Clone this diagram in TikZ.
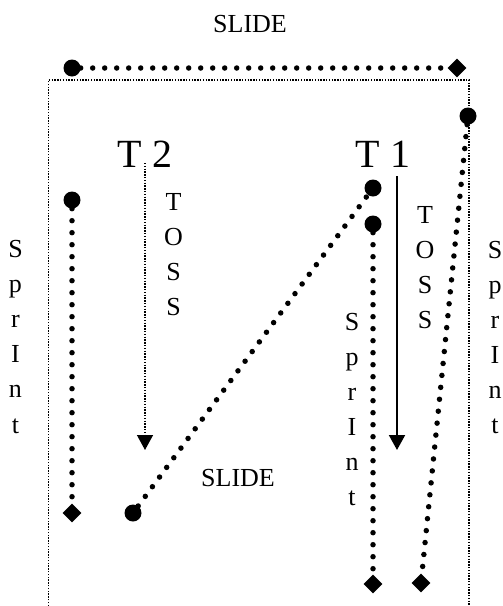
\documentclass[tikz,border=0pt]{standalone}
\usepackage{fontspec}
\setmainfont{Liberation Serif}
\usetikzlibrary{shapes.geometric,arrows.meta}
\tikzset{
  bigdots/.style={line width=5.5pt, line cap=round, dash pattern=on 0pt off 12pt},
  finedots/.style={line width=1.4pt, dash pattern=on 1.4pt off 1.4pt},
  dot/.style={circle, fill=black, draw=none, minimum size=17pt, inner sep=0pt},
  diam/.style={diamond, fill=black, draw=none, minimum size=19pt, inner sep=0pt},
  lbl/.style={font=\fontsize{26}{30}\selectfont, inner sep=0pt, anchor=base},
  title/.style={font=\fontsize{40}{44}\selectfont, inner sep=0pt, anchor=base},
  tip/.style={-{Triangle[length=15pt,width=16pt]}}
}
\begin{document}
\begin{tikzpicture}[x=1pt,y=-1pt]
\useasboundingbox (0,0) rectangle (503,606);
% outer thin dotted frame
\coordinate (fbl) at (48.5,606);
\coordinate (ftl) at (48.5,80);
\coordinate (ftr) at (469,80);
\coordinate (fbr) at (469,606);
\draw[finedots] (fbl) -- (ftl) -- (ftr) -- (fbr);
% top slide
\node[lbl] (slidetop) at (250,32) {SLIDE};
\node[dot] (a1) at (72,68) {};
\node[diam] (a2) at (457,68) {};
\draw[bigdots] (a1) -- (a2);
% right long sprint
\node[dot] (b1) at (468,116) {};
\node[diam] (b2) at (421,583) {};
\draw[bigdots] (b1) -- (b2);
% left sprint
\node[dot] (c1) at (72,200) {};
\node[diam] (c2) at (72,513) {};
\draw[bigdots] (c1) -- (c2);
% diagonal slide
\node[dot] (d1) at (133,513) {};
\node[dot] (d2) at (373,188) {};
\draw[bigdots] (d1) -- (d2);
\node[lbl] (slidebot) at (238,486) {SLIDE};
% middle sprint
\node[dot] (e1) at (373,224) {};
\node[diam] (e2) at (373,584) {};
\draw[bigdots] (e1) -- (e2);
% titles
\node[title] (t2) at (145,167) {T 2};
\node[title] (t1) at (383,167) {T 1};
% T2 toss arrow
\coordinate (t2s) at (145,163);
\coordinate (t2e) at (145,450);
\draw[finedots, tip] (t2s) -- (t2e);
% T1 toss arrow
\coordinate (t1s) at (397,176);
\coordinate (t1e) at (397,450);
\draw[line width=2pt, tip] (t1s) -- (t1e);
% stacked letters
\foreach \c [count=\i] in {T,O,S,S} {
  \node[lbl] (tossa\i) at (173.5,{210+35*(\i-1)}) {\c};
  \node[lbl] (tossb\i) at (425,{223+35*(\i-1)}) {\c};
}
\foreach \c [count=\i] in {S,p,r,I,n,t} {
  \node[lbl] (spl\i) at (15.5,{257+35.2*(\i-1)}) {\c};
  \node[lbl] (spm\i) at (352,{330+35*(\i-1)}) {\c};
  \node[lbl] (spr\i) at (495,{258+35*(\i-1)}) {\c};
}
\end{tikzpicture}
\end{document}
